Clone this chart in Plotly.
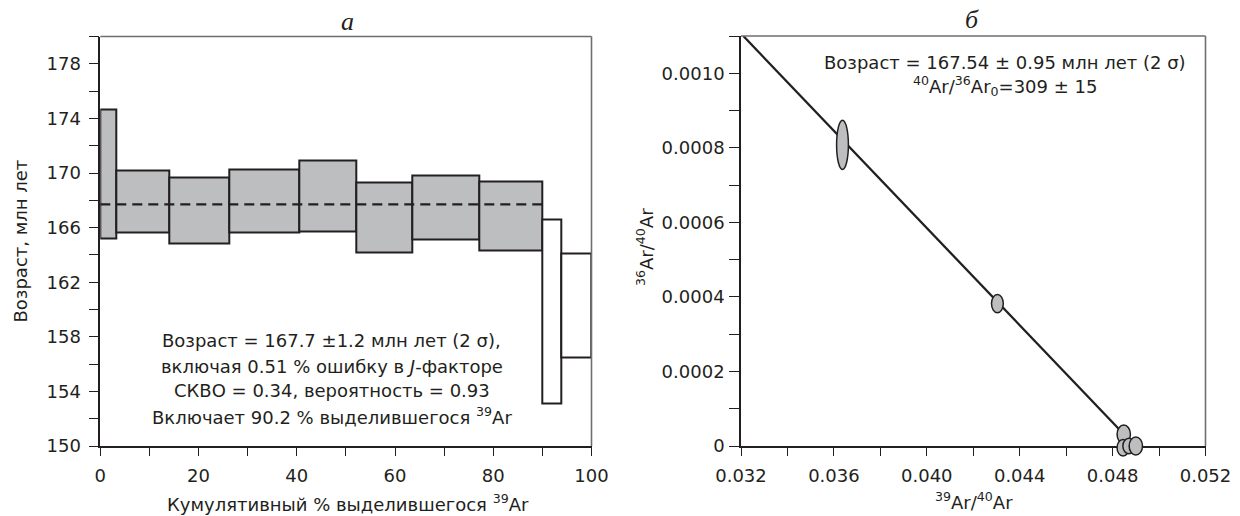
import plotly.graph_objects as go

# ---------------- data ----------------
# (а) age spectrum
cum_edges = [0, 3.2, 14.0, 26.2, 40.6, 52.1, 63.6, 77.2, 90.0, 93.8, 100]
age_hi = [174.68, 170.2, 169.65, 170.28, 170.93, 169.28, 169.8, 169.35, 166.63, 164.08]
age_lo = [165.2, 165.63, 164.8, 165.66, 165.72, 164.18, 165.12, 164.33, 153.08, 156.46]
included = [True, True, True, True, True, True, True, True, False, False]
plateau_age = 167.7
plateau_end = 90.0

# (б) inverse isochron
iso_x = [0.03637, 0.04304, 0.04848, 0.04845, 0.04870, 0.04900]
iso_y = [0.000808, 0.000382, 0.0000316, -0.0000046, 0.0, 0.0]
iso_sx = [0.000254, 0.000254, 0.000288, 0.000258, 0.000258, 0.000288]
iso_sy = [0.0000662, 0.0000246, 0.0000246, 0.0000222, 0.0000209, 0.0000241]
fit_x = [0.0321, 0.0486]
fit_y = [0.0011, 0.000024]

left_text = [
    "Возраст = 167.7 ±1.2 млн лет (2 σ),",
    "включая 0.51 % ошибку в <i>J</i>-факторе",
    "СКВО = 0.34, вероятность = 0.93",
    "Включает 90.2 % выделившегося <sup>39</sup>Ar",
]
left_text_y = [157.75, 155.85, 154.05, 152.2]
right_text = [
    "Возраст = 167.54 ± 0.95 млн лет (2 σ)",
    "<sup>40</sup>Ar/<sup>36</sup>Ar<sub>0</sub>=309 ± 15",
]
right_text_y = [0.00103, 0.000967]

# ---------------- style ----------------
W, H = 1240, 516
DARK = "#231f20"
GRAY_FILL = "#bcbec0"
FRAME = "#6e6e6e"
FONT = "DejaVu Sans, Liberation Sans, Arial, sans-serif"
FS = 18
SERIF = "Liberation Serif, Times New Roman, serif"


def px(p):
    return p / W


def py(p):
    return 1 - p / H


xa_dom = [px(100.3), px(591.5)]
ya_dom = [py(446), py(36.5)]
xb_dom = [px(741), px(1205.5)]
yb_dom = [py(446), py(36)]
yb_range = [0, 0.0011]
ext = 16 / H  # extra room below for ellipses (unclipped)
yc_dom = [yb_dom[0] - ext, yb_dom[1]]
yc_range = [-(yb_range[1] - yb_range[0]) * ext / (yb_dom[1] - yb_dom[0]), yb_range[1]]

fig = go.Figure()

# step boxes
centers = [(cum_edges[i] + cum_edges[i + 1]) / 2 for i in range(len(age_hi))]
widths = [cum_edges[i + 1] - cum_edges[i] for i in range(len(age_hi))]
heights = [h - l for h, l in zip(age_hi, age_lo)]
fills = [GRAY_FILL if inc else "white" for inc in included]
fig.add_trace(go.Bar(
    x=centers, y=heights, base=age_lo, width=widths,
    marker=dict(color=fills, line=dict(color=DARK, width=2)),
    xaxis="x", yaxis="y", showlegend=False, hoverinfo="skip",
))
fig.add_trace(go.Scatter(
    x=[0, plateau_end], y=[plateau_age, plateau_age], mode="lines",
    line=dict(color=DARK, width=2.4, dash="10px,6px"),
    xaxis="x", yaxis="y", showlegend=False, hoverinfo="skip",
))

# isochron line
fig.add_trace(go.Scatter(
    x=fit_x, y=fit_y, mode="lines", line=dict(color=DARK, width=2.3),
    xaxis="x2", yaxis="y2", showlegend=False, hoverinfo="skip",
))
# invisible carrier for the ellipse subplot
fig.add_trace(go.Scatter(
    x=iso_x, y=iso_y, mode="markers", marker=dict(opacity=0),
    xaxis="x3", yaxis="y3", showlegend=False, hoverinfo="skip",
))

shapes = []
for cx, cy, sx, sy in zip(iso_x, iso_y, iso_sx, iso_sy):
    shapes.append(dict(
        type="circle", xref="x3", yref="y3",
        x0=cx - sx, x1=cx + sx, y0=cy - sy, y1=cy + sy,
        fillcolor=GRAY_FILL, line=dict(color=DARK, width=1.5), layer="above",
    ))
# top / right gray frame lines
for xr, yr in (("x domain", "y domain"), ("x2 domain", "y2 domain")):
    shapes.append(dict(type="line", xref=xr, yref=yr, x0=0, x1=1, y0=1, y1=1,
                       line=dict(color=FRAME, width=1.6), layer="above"))
    shapes.append(dict(type="line", xref=xr, yref=yr, x0=1, x1=1, y0=0, y1=1,
                       line=dict(color=FRAME, width=1.6), layer="above"))

tickfont = dict(family=FONT, size=FS, color=DARK)
common_axis = dict(showgrid=False, zeroline=False, showline=True, linecolor=DARK,
                   ticks="outside", tickcolor=DARK, tickwidth=1.3, tickfont=tickfont,
                   automargin=False)
txtfont = dict(family=FONT, size=FS, color=DARK)

annotations = []
for t, yv in zip(left_text, left_text_y):
    annotations.append(dict(text=t, x=47.1, y=yv, xref="x", yref="y", showarrow=False,
                            font=txtfont, xanchor="center", yanchor="middle"))
for t, yv in zip(right_text, right_text_y):
    annotations.append(dict(text=t, x=0.04336, y=yv, xref="x2", yref="y2", showarrow=False,
                            font=txtfont, xanchor="center", yanchor="middle"))


def paper_text(text, x, y, font, angle=0):
    return dict(text=text, x=px(x), y=py(y), xref="paper", yref="paper",
                xanchor="center", yanchor="middle", textangle=angle,
                showarrow=False, font=font)


annotations += [
    paper_text("<i>а</i>", 347, 22, dict(family=SERIF, size=26, color=DARK)),
    paper_text("<i>б</i>", 972, 20, dict(family=SERIF, size=26, color=DARK)),
    paper_text("Возраст, млн лет", 20, 241.5, txtfont, -90),
    paper_text("Кумулятивный % выделившегося <sup>39</sup>Ar", 348, 503, txtfont),
    paper_text("<sup>36</sup>Ar/<sup>40</sup>Ar", 645, 247, txtfont, -90),
    paper_text("<sup>39</sup>Ar/<sup>40</sup>Ar", 974, 501, txtfont),
]

y2_vals = [0, 0.0002, 0.0004, 0.0006, 0.0008, 0.0010]
y2_text = ["0", "0.0002", "0.0004", "0.0006", "0.0008", "0.0010"]

fig.update_layout(
    width=W, height=H, margin=dict(l=0, r=0, t=0, b=0, pad=0, autoexpand=False),
    paper_bgcolor="white", plot_bgcolor="rgba(0,0,0,0)",
    barmode="overlay", bargap=0, showlegend=False,
    xaxis=dict(domain=xa_dom, range=[0, 100], anchor="y", tick0=0, dtick=20,
               ticklen=8, linewidth=2.2, ticklabelstandoff=4,
               minor=dict(dtick=10, ticks="outside", ticklen=8, tickcolor=DARK, tickwidth=1.3),
               **common_axis),
    yaxis=dict(domain=ya_dom, range=[150, 180], anchor="x", tick0=150, dtick=4,
               ticklen=10, linewidth=1.6, ticklabelstandoff=4,
               minor=dict(tick0=150, dtick=2, ticks="outside", ticklen=10, tickcolor=DARK, tickwidth=1.3),
               **common_axis),
    xaxis2=dict(domain=xb_dom, range=[0.032, 0.052], anchor="y2", tick0=0.032, dtick=0.004,
                tickformat=".3f", ticklen=8, linewidth=2.2, ticklabelstandoff=4,
                minor=dict(dtick=0.002, ticks="outside", ticklen=8, tickcolor=DARK, tickwidth=1.3),
                **common_axis),
    yaxis2=dict(domain=yb_dom, range=yb_range, anchor="x2", tickvals=y2_vals, ticktext=y2_text,
                ticklen=10, linewidth=1.6, ticklabelstandoff=1,
                minor=dict(dtick=0.0001, ticks="outside", ticklen=10, tickcolor=DARK, tickwidth=1.3),
                **common_axis),
    xaxis3=dict(domain=xb_dom, range=[0.032, 0.052], anchor="y3", visible=False),
    yaxis3=dict(domain=yc_dom, range=yc_range, anchor="x3", visible=False),
    shapes=shapes,
    annotations=annotations,
)

fig.write_html("out.html", config={"displayModeBar": False},
               post_script="document.body.style.margin='0px';")
